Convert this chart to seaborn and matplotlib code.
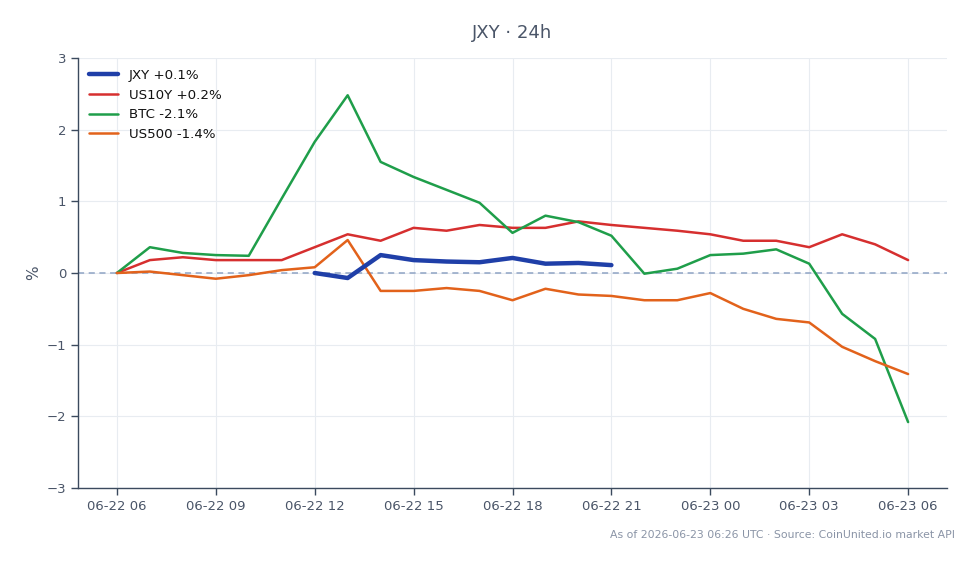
import numpy as np
import pandas as pd
import matplotlib
matplotlib.use("Agg")
import matplotlib.pyplot as plt
import matplotlib.dates as mdates
import seaborn as sns

times = pd.date_range("2026-06-22 06:00", "2026-06-23 06:00", freq="h")

us10y = [0.00, 0.18, 0.22, 0.18, 0.18, 0.18, 0.36, 0.54, 0.45, 0.63, 0.59, 0.67, 0.63,
         0.63, 0.72, 0.67, 0.63, 0.59, 0.54, 0.45, 0.45, 0.36, 0.54, 0.40, 0.18]
btc = [0.00, 0.36, 0.28, 0.25, 0.24, 1.04, 1.83, 2.48, 1.55, 1.34, 1.16, 0.98, 0.56,
       0.80, 0.71, 0.52, -0.01, 0.06, 0.25, 0.27, 0.33, 0.13, -0.57, -0.92, -2.08]
us500 = [0.00, 0.02, -0.03, -0.08, -0.03, 0.04, 0.08, 0.46, -0.25, -0.25, -0.21, -0.25, -0.38,
         -0.22, -0.30, -0.32, -0.38, -0.38, -0.28, -0.50, -0.64, -0.69, -1.03, -1.23, -1.41]
jxy_start = 6  # index of 06-22 12
jxy = [0.00, -0.07, 0.25, 0.18, 0.16, 0.15, 0.21, 0.13, 0.14, 0.11]

labels = ["JXY +0.1%", "US10Y +0.2%", "BTC -2.1%", "US500 -1.4%"]
colors = ["#1f3fa8", "#d62f2f", "#1f9e4a", "#e2621b"]
widths = [3.2, 1.8, 1.8, 1.8]

sns.set_theme(style="white")
plt.rcParams['font.family'] = ['DejaVu Sans']
text_col = "#4a5568"

fig = plt.figure(figsize=(9.79, 5.64), dpi=100)
ax = fig.add_axes([78/979, 1-488/564, (947-78)/979, (488-58)/564])

frames = [
    pd.DataFrame({"t": times[jxy_start:jxy_start+len(jxy)], "v": jxy}),
    pd.DataFrame({"t": times, "v": us10y}),
    pd.DataFrame({"t": times, "v": btc}),
    pd.DataFrame({"t": times, "v": us500}),
]
ax.axhline(0, color="#8fa3c4", lw=1.1, ls=(0, (4, 3)), zorder=1)
order = [1, 2, 3, 0]
for i in order:
    sns.lineplot(data=frames[i], x="t", y="v", ax=ax, color=colors[i], lw=widths[i],
                 label=labels[i], zorder=5 if i == 0 else 3)

ax.set_ylim(-3, 3)
ax.set_yticks([-3, -2, -1, 0, 1, 2, 3])
ax.set_yticklabels(["\u22123", "\u22122", "\u22121", "0", "1", "2", "3"])
x0 = times[0] - pd.Timedelta(hours=1.18)
x1 = times[-1] + pd.Timedelta(hours=1.18)
ax.set_xlim(x0, x1)
ax.xaxis.set_major_locator(mdates.HourLocator(byhour=[0, 3, 6, 9, 12, 15, 18, 21]))
ax.xaxis.set_major_formatter(mdates.DateFormatter("%m-%d %H"))
ax.grid(True, color="#e8ecf1", lw=0.8)
ax.set_axisbelow(True)
for s in ["top", "right"]:
    ax.spines[s].set_visible(False)
for s in ["left", "bottom"]:
    ax.spines[s].set_color("#3b4a5e")
    ax.spines[s].set_linewidth(1.0)
ax.tick_params(axis="both", colors=text_col, labelsize=9.5, length=5, width=1,
               direction="out", bottom=True, left=True, color="#3b4a5e")
ax.set_xlabel("")
ax.set_ylabel("%", color=text_col, fontsize=11)

handles, labs = ax.get_legend_handles_labels()
hmap = dict(zip(labs, handles))
leg = ax.legend([hmap[l] for l in labels], labels, loc="upper left", frameon=False,
                fontsize=9.6, handlelength=2.2, handletextpad=0.8, borderaxespad=0.3,
                labelspacing=0.5, bbox_to_anchor=(0.002, 0.996))
for t in leg.get_texts():
    t.set_color("#111111")

fig.text(512/979, 1-33/564, "JXY \u00b7 24h", ha="center", va="center", fontsize=13,
         color=text_col)
fig.text(955/979, 1-535/564, "As of 2026-06-23 06:26 UTC \u00b7 Source: CoinUnited.io market API",
         ha="right", va="center", fontsize=7.8, color="#8a94a6")

fig.savefig("out.png", dpi=100)
